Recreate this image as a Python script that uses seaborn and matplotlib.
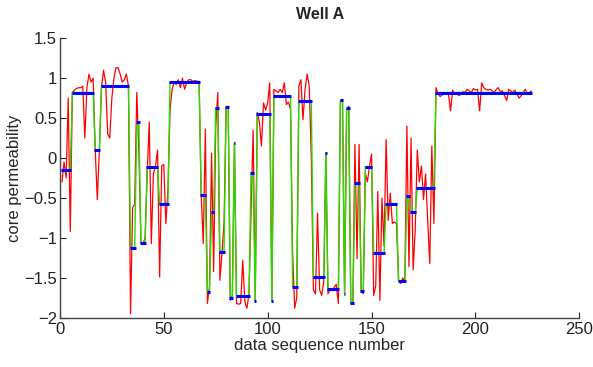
import numpy as np
import pandas as pd
import matplotlib
matplotlib.use('Agg')
import matplotlib.pyplot as plt
import seaborn as sns

# raw core permeability, one value per data sequence number (1..227)
perm = [
    -0.30, -0.05, -0.25, 0.75, -0.92, 0.82, 0.85, 0.87, 0.88, 0.88,
    0.90, 0.25, 0.88, 1.05, 0.95, 1.00, 0.10, -0.52, 0.10, 0.88,
    1.10, 0.95, 0.30, 0.25, 0.75, 1.00, 1.13, 1.13, 1.05, 0.95,
    0.98, 1.05, 0.90, -1.95, -0.62, -0.58, 0.82, 0.10, -1.05, -1.07,
    -1.00, -0.20, 0.45, -1.07, -0.20, -0.10, 0.10, -1.49, -0.10, -0.08,
    -0.82, -0.40, 0.60, 0.86, 0.95, 0.92, 0.98, 0.88, 1.00, 0.86,
    0.94, 0.98, 0.98, 0.96, 0.97, 0.96, 0.96, -0.46, -1.07, 0.36,
    -1.82, -1.60, 0.06, -1.42, 0.40, 0.82, -1.53, -1.20, -0.80, 0.63,
    0.65, -1.78, -1.72, 0.19, -1.82, -1.83, -1.82, -1.28, -1.80, -1.88,
    -1.70, -0.70, 0.35, -1.78, 0.57, 0.45, 0.15, 0.69, 0.60, 0.69,
    0.94, -1.78, 0.86, 0.84, 0.82, 0.86, 0.82, 0.94, 0.67, 0.70,
    0.61, -1.20, -1.88, -1.75, 0.90, 0.98, 0.48, 0.86, 1.05, 0.90,
    0.00, -1.65, -1.70, -0.69, -1.65, -1.72, -1.55, 0.06, -1.70, -1.65,
    -1.66, -1.62, -1.58, -1.82, 0.71, 0.73, -1.70, 0.60, 0.65, -1.82,
    -1.80, 0.17, -1.26, 0.17, -1.65, -1.70, -0.19, -0.30, -0.10, 0.05,
    -1.72, -1.60, -0.42, -1.78, -0.50, -1.10, 0.23, -0.78, -0.44, -0.82,
    -0.80, -0.82, -1.53, -1.57, -1.50, -1.55, 0.40, -1.36, 0.25, -1.40,
    -0.90, 0.10, -0.30, -0.10, -0.52, -0.20, -0.78, -1.32, 0.15, -0.82,
    0.88, 0.80, 0.77, 0.79, 0.80, 0.82, 0.80, 0.59, 0.85, 0.80,
    0.82, 0.78, 0.80, 0.83, 0.82, 0.86, 0.84, 0.82, 0.87, 0.85,
    0.86, 0.59, 0.94, 0.88, 0.86, 0.85, 0.86, 0.84, 0.82, 0.86,
    0.88, 0.83, 0.84, 0.78, 0.72, 0.86, 0.84, 0.82, 0.85, 0.80,
    0.75, 0.78, 0.82, 0.86, 0.80, 0.82, 0.84,
]

# piecewise-constant segmentation: first index, last index, level
seg_start = [1, 6, 17, 20, 34, 37, 39, 42, 48, 53, 68, 71, 73, 75, 77, 80, 82,
             84, 85, 92, 94, 95, 102, 103, 112, 115, 122, 128, 129, 135, 137,
             138, 140, 142, 145, 147, 151, 157, 163, 167, 169, 172, 181]
seg_end = [5, 16, 19, 33, 36, 38, 41, 47, 52, 67, 70, 72, 74, 76, 79, 81, 83,
           84, 91, 93, 94, 101, 102, 111, 114, 121, 127, 128, 134, 136, 137,
           139, 141, 144, 146, 150, 156, 162, 166, 168, 171, 180, 227]
seg_level = [-0.15, 0.82, 0.10, 0.90, -1.12, 0.45, -1.06, -0.11, -0.58, 0.95,
             -0.46, -1.68, -0.68, 0.62, -1.17, 0.64, -1.75, 0.19, -1.73, -0.19,
             -1.79, 0.55, -1.79, 0.77, -1.61, 0.71, -1.49, 0.06, -1.64, 0.72,
             -1.70, 0.62, -1.82, -0.31, -1.67, -0.11, -1.19, -0.57, -1.54,
             -0.48, -0.68, -0.37, 0.82]

idx = np.arange(1, len(perm) + 1)
step = np.zeros(len(perm))
for a, b, lv in zip(seg_start, seg_end, seg_level):
    step[a - 1:b] = lv

df = pd.DataFrame({'n': idx, 'raw': perm, 'step': step})

sns.set_style('ticks')
plt.rcParams['font.family'] = ['Liberation Sans', 'DejaVu Sans']
plt.rcParams['xtick.direction'] = 'in'
plt.rcParams['ytick.direction'] = 'in'

fig = plt.figure(figsize=(5.93, 3.67), dpi=100)
ax = fig.add_axes([0.101, 0.134, 0.876, 0.762])

sns.lineplot(data=df, x='n', y='raw', color='#ff0000', lw=0.9, ax=ax,
             estimator=None)
sns.lineplot(data=df, x='n', y='step', color='#22dd00', lw=1.0, ax=ax,
             estimator=None)
ax.hlines(seg_level, np.array(seg_start) - 0.4, np.array(seg_end) + 0.4,
          colors='#0000ff', lw=2.2, zorder=5)

ax.set_xlim(0, 250)
ax.set_ylim(-2, 1.5)
ax.set_xticks([0, 50, 100, 150, 200, 250])
ax.set_yticks([-2, -1.5, -1, -0.5, 0, 0.5, 1, 1.5])
ax.set_yticklabels(['\u22122', '\u22121.5', '\u22121', '\u22120.5', '0', '0.5', '1', '1.5'])
ax.tick_params(labelsize=12, length=4, width=0.8, colors='#222222', pad=2)
ax.tick_params(axis='x', pad=3)
for s in ['top', 'right']:
    ax.spines[s].set_visible(False)
for s in ['left', 'bottom']:
    ax.spines[s].set_color('#444444')
    ax.spines[s].set_linewidth(1.0)

ax.set_title('Well A', fontsize=11.5, fontweight='bold', pad=14)
ax.set_xlabel('data sequence number', fontsize=12, labelpad=1)
ax.set_ylabel('core permeability', fontsize=12, labelpad=2)

fig.savefig('out.png', dpi=100)
